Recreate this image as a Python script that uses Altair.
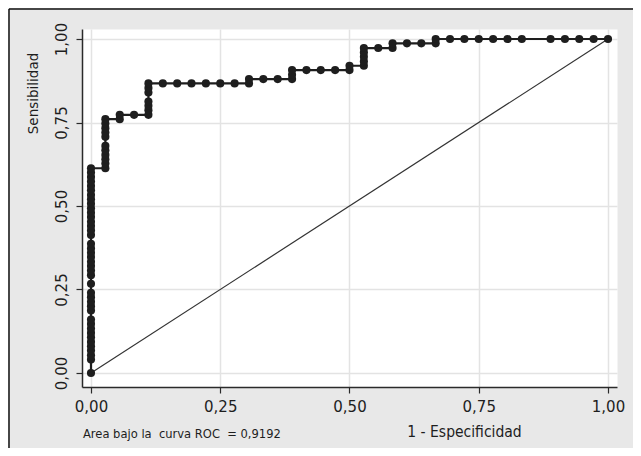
import altair as alt
import pandas as pd

# ROC points (1 - especificidad, sensibilidad), in curve order
fpr = (
    [0.0] * 41
    + [0.0278] * 11
    + [0.0556] * 2
    + [0.0833]
    + [0.1111] * 7
    + [0.1389, 0.1667, 0.1944, 0.2222, 0.25, 0.2778]
    + [0.3056] * 2
    + [0.3333, 0.3611]
    + [0.3889] * 3
    + [0.4167, 0.4444, 0.4722]
    + [0.5] * 2
    + [0.5278] * 5
    + [0.5556]
    + [0.5833] * 2
    + [0.6111, 0.6389]
    + [0.6667] * 2
    + [0.6944, 0.7222, 0.75, 0.7778, 0.8056, 0.8333]
    + [0.8889, 0.9167, 0.9444, 0.9722, 1.0]
)
tpr = (
    [0.0, 0.040, 0.053, 0.067, 0.080, 0.093, 0.107, 0.120, 0.133, 0.147,
     0.160, 0.187, 0.200, 0.213, 0.227, 0.240, 0.267, 0.293, 0.307, 0.320,
     0.333, 0.347, 0.360, 0.373, 0.387, 0.413, 0.427, 0.440, 0.453, 0.467,
     0.480, 0.493, 0.507, 0.520, 0.533, 0.547, 0.560, 0.573, 0.587, 0.600,
     0.613]
    + [0.613, 0.627, 0.640, 0.653, 0.667, 0.680, 0.707, 0.720, 0.733, 0.747, 0.760]
    + [0.760, 0.773]
    + [0.773]
    + [0.773, 0.787, 0.800, 0.813, 0.840, 0.853, 0.867]
    + [0.867] * 6
    + [0.867, 0.880]
    + [0.880, 0.880]
    + [0.880, 0.893, 0.907]
    + [0.907] * 3
    + [0.907, 0.920]
    + [0.920, 0.933, 0.947, 0.960, 0.973]
    + [0.973]
    + [0.973, 0.987]
    + [0.987, 0.987]
    + [0.987, 1.0]
    + [1.0] * 6
    + [1.0] * 5
)

diag_x = [0.0, 1.0]
diag_y = [0.0, 1.0]
tick_values = [0.0, 0.25, 0.5, 0.75, 1.0]
x_title = "1 - Especificidad"
y_title = "Sensibilidad"
auc_text = "Area bajo la\u00a0\u00a0curva ROC\u00a0\u00a0= 0,9192"

roc = pd.DataFrame({"fpr": fpr, "tpr": tpr, "ord": list(range(len(fpr)))})
diag = pd.DataFrame({"fpr": diag_x, "tpr": diag_y})
note = pd.DataFrame({"t": [auc_text]})

W, H = 535, 358
PAD = {"left": 74, "top": 21, "right": 16, "bottom": 61}

xscale = alt.Scale(domain=[-0.0174, 1.0174], nice=False, zero=False)
yscale = alt.Scale(domain=[-0.042, 1.03], nice=False, zero=False)
label_expr = "replace(format(datum.value, '.2f'), '.', ',')"

NARROW = "DejaVu Sans Condensed, sans-serif"
INK = "#1e1e1e"

xaxis = alt.Axis(
    values=tick_values, labelExpr=label_expr, title=x_title,
    titleX=382, titleY=44, titleAlign="center", titleBaseline="middle",
    titleFont=NARROW, titleFontSize=15.5, titleFontWeight="normal",
    labelFlush=False, labelOverlap=False, labelPadding=6,
)
yaxis = alt.Axis(
    values=tick_values, labelExpr=label_expr, title=y_title,
    titleX=-49, titleY=64, titleAngle=270, titleAlign="center", titleBaseline="middle",
    titleFont="DejaVu Sans", titleFontSize=13.5, titleFontWeight="normal",
    labelAngle=270, labelAlign="center", labelBaseline="bottom",
    labelFlush=False, labelOverlap=False, labelPadding=7,
)

base_x = alt.X("fpr:Q", scale=xscale, axis=xaxis)
base_y = alt.Y("tpr:Q", scale=yscale, axis=yaxis)

diag_line = alt.Chart(diag).mark_line(color="#333333", strokeWidth=1.2).encode(
    x=base_x, y=base_y
)
roc_line = alt.Chart(roc).mark_line(color=INK, strokeWidth=2.2).encode(
    x=alt.X("fpr:Q", scale=xscale), y=alt.Y("tpr:Q", scale=yscale),
    order="ord:Q",
)
roc_pts = alt.Chart(roc).mark_circle(size=66, color=INK, opacity=1).encode(
    x=alt.X("fpr:Q", scale=xscale), y=alt.Y("tpr:Q", scale=yscale),
)
note_txt = alt.Chart(note).mark_text(
    align="left", baseline="middle", font=NARROW, fontSize=12.8, color=INK
).encode(x=alt.value(1), y=alt.value(405), text="t:N")

frame_top = alt.Chart(note).mark_rule(color="#111111", strokeWidth=1.5).encode(
    x=alt.value(-73), x2=alt.value(551), y=alt.value(-20)
)
frame_left = alt.Chart(note).mark_rule(color="#111111", strokeWidth=1.5).encode(
    x=alt.value(-73), y=alt.value(-20), y2=alt.value(419)
)

chart = (
    alt.layer(diag_line, roc_line, roc_pts, note_txt, frame_top, frame_left)
    .properties(width=W, height=H, padding=PAD,
                autosize=alt.AutoSizeParams(type="none"),
                background="#e8e8e8")
    .configure_view(stroke="transparent", fill="white")
    .configure_axis(
        domainColor="#2a2a2a", domainWidth=1.5, tickColor="#2a2a2a", tickSize=6,
        tickWidth=1.2, gridColor="#e3e3e3", gridWidth=1.5,
        labelFont="DejaVu Sans", labelFontSize=15, labelColor=INK, titleColor=INK,
    )
)

chart.save("out.html", embed_options={"renderer": "svg", "actions": False})
